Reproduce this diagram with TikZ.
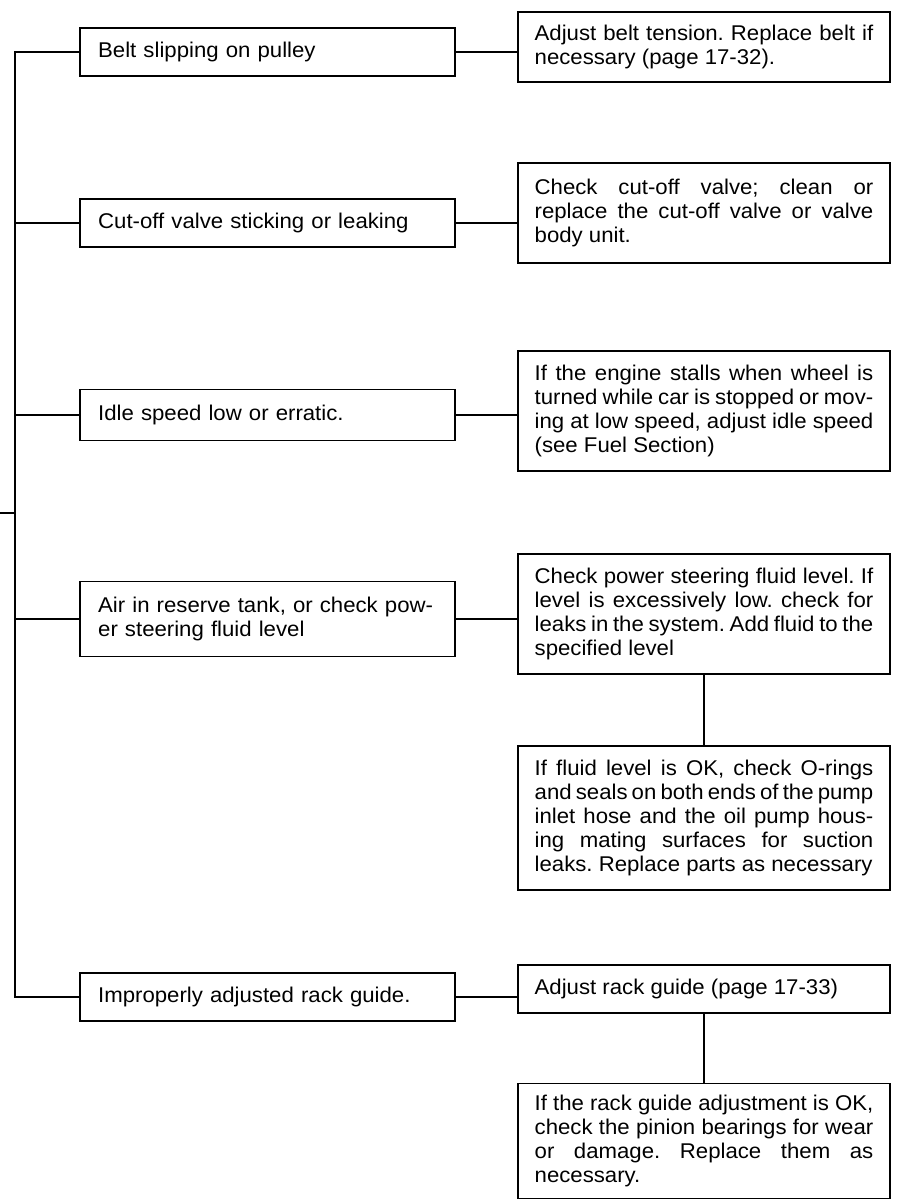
\documentclass[tikz,border=0pt]{standalone}
\usepackage{fontspec}
\setmainfont{Liberation Sans}[FakeStretch=1.04]

\tikzset{every picture/.style={line width=0.75pt}}
\tikzset{
  boxtext/.style={font=\fontsize{16}{18}\selectfont\frenchspacing},
  cause/.style={boxtext, draw, line width=1.1pt, text width=254pt, inner xsep=13.5pt, inner ysep=0pt, align=left},
  remedy/.style={boxtext, draw, line width=1.1pt, text width=254pt, inner xsep=12.5pt, inner ysep=0pt, align=justify},
  link/.style={line width=1.1pt}
}

\begin{document}
\begin{tikzpicture}[x=0.75pt,y=0.75pt,yscale=-1,xscale=1]
\useasboundingbox (0,0) rectangle (896,1202);

% Cause Nodes
\node [cause, minimum height=36pt] (slip) at (267.5,52) {Belt slipping on pulley};
\node [cause, minimum height=36pt] (cutoff) at (267.5,223) {Cut-off valve sticking or leaking};
\node [cause, minimum height=38pt] (idle) at (267.5,415) {Idle speed low or erratic.};
\node [cause, minimum height=56pt] (air) at (267.5,619) {Air in reserve tank, or check pow-\\er steering fluid level};
\node [cause, minimum height=36pt] (rack) at (267.5,997) {Improperly adjusted rack guide.};

% Remedy Nodes
\node [remedy, minimum height=52.5pt] (belt) at (704,47) {Adjust belt tension. Replace belt if\linebreak necessary (page 17-32).};
\node [remedy, minimum height=75pt] (valve) at (704,213) {Check cut-off valve; clean or\linebreak replace the cut-off valve or valve\linebreak body unit.};
\node [remedy, minimum height=90pt] (stall) at (704,411) {If the engine stalls when wheel is\linebreak turned while car is stopped or mov-\linebreak ing at low speed, adjust idle speed\linebreak (see Fuel Section)};
\node [remedy, minimum height=90pt] (fluid) at (704,614) {Check power steering fluid level. If\linebreak level is excessively low. check for\linebreak leaks in the system. Add fluid to the\linebreak specified level};
\node [remedy, minimum height=108pt] (orings) at (704,818) {If fluid level is OK, check O-rings\linebreak and seals on both ends of the pump\linebreak inlet hose and the oil pump hous-\linebreak ing mating surfaces for suction\linebreak leaks. Replace parts as necessary};
\node [remedy, minimum height=36pt] (guide) at (704,989) {Adjust rack guide (page 17-33)};
\node [remedy, minimum height=86pt] (pinion) at (704,1141) {If the rack guide adjustment is OK,\linebreak check the pinion bearings for wear\linebreak or damage. Replace them as\linebreak necessary.};

%Trunk Lines
\coordinate (trunk) at (15,0);
\coordinate (root) at (0,513);
\draw [link] (slip.west) -| (trunk |- rack.west) -- (rack.west);
\draw [link] (cutoff.west) -- (trunk |- cutoff.west);
\draw [link] (idle.west) -- (trunk |- idle.west);
\draw [link] (air.west) -- (trunk |- air.west);
\draw [link] (root) -- (trunk |- root);

%Straight Lines
\draw [link] (slip.east) -- (slip.east -| belt.west);
\draw [link] (cutoff.east) -- (cutoff.east -| valve.west);
\draw [link] (idle.east) -- (idle.east -| stall.west);
\draw [link] (air.east) -- (air.east -| fluid.west);
\draw [link] (rack.east) -- (rack.east -| guide.west);
\draw [link] (fluid.south) -- (orings.north);
\draw [link] (guide.south) -- (pinion.north);

\end{tikzpicture}
\end{document}
